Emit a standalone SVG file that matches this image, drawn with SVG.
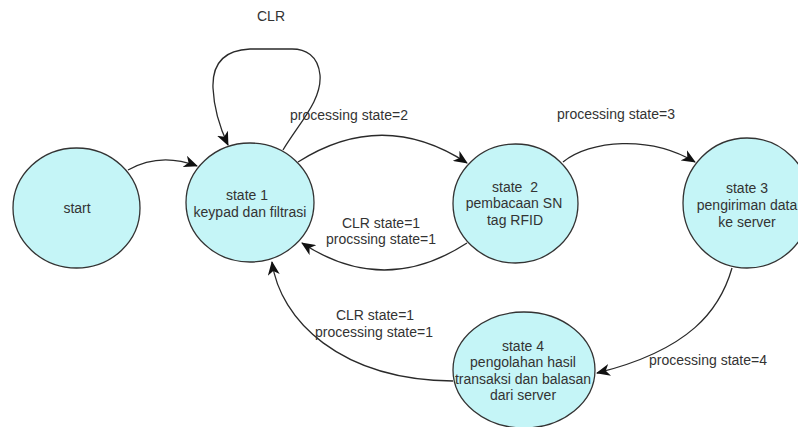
<svg xmlns="http://www.w3.org/2000/svg" width="798" height="427" viewBox="0 0 798 427">
<style>
.node{fill:#c5f5f7;stroke:#333;stroke-width:1.3}
.edge{fill:none;stroke:#2a2a2a;stroke-width:1.3;marker-end:url(#arr)}
text{font-family:"Liberation Sans",Arial,sans-serif;font-size:14px;fill:#333;text-anchor:middle}
</style>
<defs>
<marker id="arr" markerUnits="userSpaceOnUse" markerWidth="14" markerHeight="12" viewBox="0 0 14 12" refX="13" refY="6" orient="auto">
<path d="M0,0 L14,6 L0,12 L4,6 Z" fill="#111"/>
</marker>
</defs>
<rect width="798" height="427" fill="#fff"/>
<g id="connectors">
<path class="edge" d="M283,150 C300,122 322,100 320,75 C318,55 305,49 292,49 L250,49 C225,50 212,62 213,88 C214,110 220,128 228,145"/>
<path class="edge" d="M128,170 Q160,152 197,166"/>
<path class="edge" d="M298,162 Q383,108 467,163"/>
<path class="edge" d="M563,162 C590,140 650,135 695,162"/>
<path class="edge" d="M467,243 Q384,297 302,243"/>
<path class="edge" d="M732,268 C720,310 690,350 597,373"/>
<path class="edge" d="M453,381 C340,380 280,320 272,262"/>
<text x="271" y="21">CLR</text>
<text x="349" y="120">processing state=2</text>
<text x="616" y="119">processing state=3</text>
<text x="381" y="228">CLR state=1</text>
<text x="381" y="244">procssing state=1</text>
<text x="375" y="320">CLR state=1</text>
<text x="374" y="337">processing state=1</text>
<text x="708" y="365">processing state=4</text>
</g>
<g id="start">
<ellipse class="node" cx="76.5" cy="208" rx="63.5" ry="60"/>
<text x="77" y="213">start</text>
</g>
<g id="state1">
<ellipse class="node" cx="250" cy="202.5" rx="64" ry="59.5"/>
<text x="247" y="200">state 1</text>
<text x="250" y="217">keypad dan filtrasi</text>
</g>
<g id="state2">
<ellipse class="node" cx="515.5" cy="203.5" rx="62.5" ry="59.5"/>
<text x="515" y="192" xml:space="preserve">state  2</text>
<text x="514" y="208">pembacaan SN</text>
<text x="515" y="225">tag RFID</text>
</g>
<g id="state3">
<ellipse class="node" cx="747" cy="203" rx="64" ry="65"/>
<text x="747" y="193">state 3</text>
<text x="747" y="210">pengiriman data</text>
<text x="747" y="227">ke server</text>
</g>
<g id="state4">
<ellipse class="node" cx="524" cy="370" rx="71" ry="58"/>
<text x="523" y="351">state 4</text>
<text x="523" y="367">pengolahan hasil</text>
<text x="523" y="384">transaksi dan balasan</text>
<text x="523" y="400">dari server</text>
</g>
</svg>
